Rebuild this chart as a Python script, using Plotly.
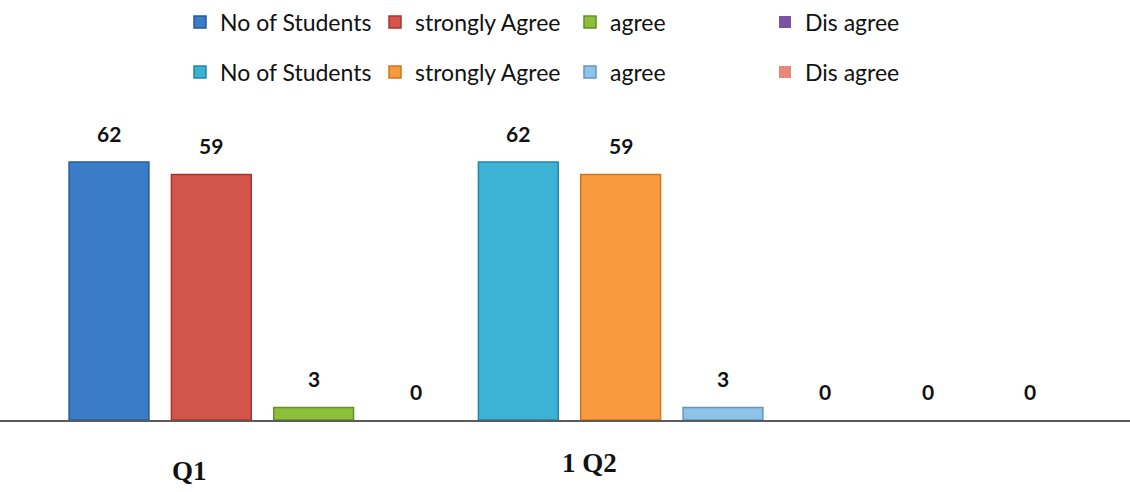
import plotly.graph_objects as go

# ---- data ----
series_names = ["No of Students", "strongly Agree", "agree", "Dis agree"]
q1_values = [62, 59, 3, 0]
q2_values = [62, 59, 3, 0]
q2_extra_values = [0, 0]          # two further empty bars in the Q2 group
group_labels = ["Q1", "1 Q2"]

q1_colors = ["#3a7cc6", "#d4554b", "#8dbf3b", "#7b52a4"]
q2_colors = ["#3cb3d4", "#f89a3d", "#8fc2e8", "#e8887c"]
q1_lines = ["#24599a", "#a8352e", "#64902a", "#553a7a"]
q2_lines = ["#2487a6", "#d0741e", "#6496bf", "#c0645a"]

fig = go.Figure()

bar_w = 0.78
txt_font = dict(family="Lato", size=21, color="#111111", weight="bold")


def line_w(v):
    return 1.5 if v > 0 else 0


def add_label(x, v):
    fig.add_annotation(x=x, y=v, xref="x", yref="y", text=str(v), showarrow=False,
                       yanchor="middle", yshift=29, font=txt_font)


slot = 0
for i, name in enumerate(series_names):
    v = q1_values[i]
    fig.add_trace(go.Bar(
        x=[slot], y=[v], name=name, width=bar_w,
        marker=dict(color=q1_colors[i], line=dict(color=q1_lines[i], width=line_w(v))),
        legend="legend", hoverinfo="skip"))
    add_label(slot, v)
    slot += 1
for i, name in enumerate(series_names):
    v = q2_values[i]
    fig.add_trace(go.Bar(
        x=[slot], y=[v], name=name, width=bar_w,
        marker=dict(color=q2_colors[i], line=dict(color=q2_lines[i], width=line_w(v))),
        legend="legend2", hoverinfo="skip"))
    add_label(slot, v)
    slot += 1
for v in q2_extra_values:
    fig.add_trace(go.Bar(
        x=[slot], y=[v], width=bar_w, showlegend=False,
        marker=dict(color="#999999", line=dict(width=line_w(v))),
        hoverinfo="skip"))
    add_label(slot, v)
    slot += 1

spacing = 102.33
first_px = 109
x0 = -first_px / spacing
x1 = (1130 - first_px) / spacing

leg_font = dict(family="Lato", size=23, color="#111111")
common_leg = dict(orientation="h", xref="container", yref="container",
                  x=180 / 1130, xanchor="left", yanchor="middle",
                  entrywidth=150, entrywidthmode="pixels",
                  font=leg_font, bgcolor="rgba(0,0,0,0)", itemclick=False)

fig.update_layout(
    width=1130, height=492,
    margin=dict(l=0, r=0, t=100, b=72),
    paper_bgcolor="white", plot_bgcolor="white",
    barmode="overlay",
    showlegend=True,
    legend=dict(common_leg, y=1 - 22 / 492),
    legend2=dict(common_leg, y=1 - 72 / 492),
    xaxis=dict(range=[x0, x1], showticklabels=False, showgrid=False, zeroline=False,
               showline=True, linecolor="#5a5a5a", linewidth=2),
    yaxis=dict(range=[0, 76.9], visible=False),
)

fig.add_annotation(x=0.79, y=0, yref="paper", yshift=-68, text=group_labels[0],
                   showarrow=False, font=dict(family="Liberation Serif", size=27,
                                              color="#111111", weight="bold"))
fig.add_annotation(x=4.7, y=0, yref="paper", yshift=-60, text=group_labels[1],
                   showarrow=False, font=dict(family="Liberation Serif", size=27,
                                              color="#111111", weight="bold"))

fig.write_html("out.html")
